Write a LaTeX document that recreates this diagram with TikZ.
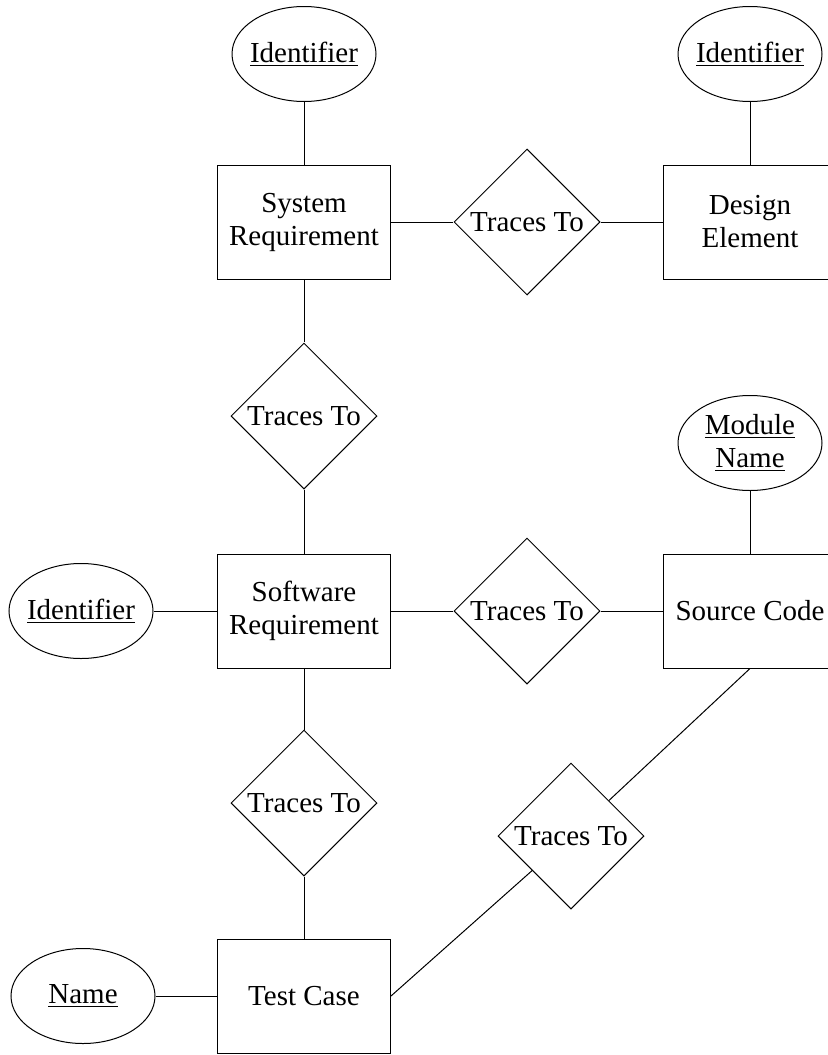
\documentclass[tikz,border=0pt]{standalone}
\usepackage{fontspec}
\setmainfont{Liberation Serif}
\usepackage{tikz}
\usetikzlibrary{shapes.geometric}

\tikzset{
  entity/.style={draw, rectangle, minimum width=86.5pt, minimum height=57pt, inner sep=0pt, align=center},
  relation/.style={draw, diamond, minimum width=73pt, minimum height=73pt, inner sep=0pt},
  attrib/.style={draw, ellipse, minimum width=72pt, minimum height=47.5pt, inner sep=-6pt, align=center}
}

\begin{document}
\begin{tikzpicture}[x=0.5pt, y=-0.5pt, line width=0.5pt,
  every node/.style={font=\fontsize{14.5}{16.5}\selectfont}]
  \clip (0,0) rectangle (828,1055);

  % entities
  \node [entity] (sysreq) at (304,222) {System\\Requirement};
  \node [entity] (design) at (750,222) {Design\\Element};
  \node [entity] (swreq) at (304,611) {Software\\Requirement};
  \node [entity] (source) at (750,611) {Source Code};
  \node [entity] (test) at (304,996) {Test Case};

  % relations
  \node [relation] (tr1) at (527,222) {Traces To};
  \node [relation] (tr2) at (304,416) {Traces To};
  \node [relation] (tr3) at (527,611) {Traces To};
  \node [relation] (tr4) at (304,803) {Traces To};
  \node [relation] (tr5) at (571,836) {Traces To};

  % attributes
  \node [attrib] (sysid) at (304,54) {\underline{Identifier}};
  \node [attrib] (desid) at (750,54) {\underline{Identifier}};
  \node [attrib] (modname) at (750,443) {\underline{Module}\\\underline{Name}};
  \node [attrib] (swid) at (81,611) {\underline{Identifier}};
  \node [attrib] (tcname) at (83,996) {\underline{Name}};

  \draw (sysid) -- (sysreq);
  \draw (desid) -- (design);
  \draw (modname) -- (source);
  \draw (swid) -- (swreq);
  \draw (tcname) -- (test);

  \draw (sysreq) -- (tr1) -- (design);
  \draw (sysreq) -- (tr2) -- (swreq);
  \draw (swreq) -- (tr3) -- (source);
  \draw (swreq) -- (tr4) -- (test);
  \draw (test.east) -- (tr5);
  \draw (tr5) -- (source.south);
\end{tikzpicture}
\end{document}
